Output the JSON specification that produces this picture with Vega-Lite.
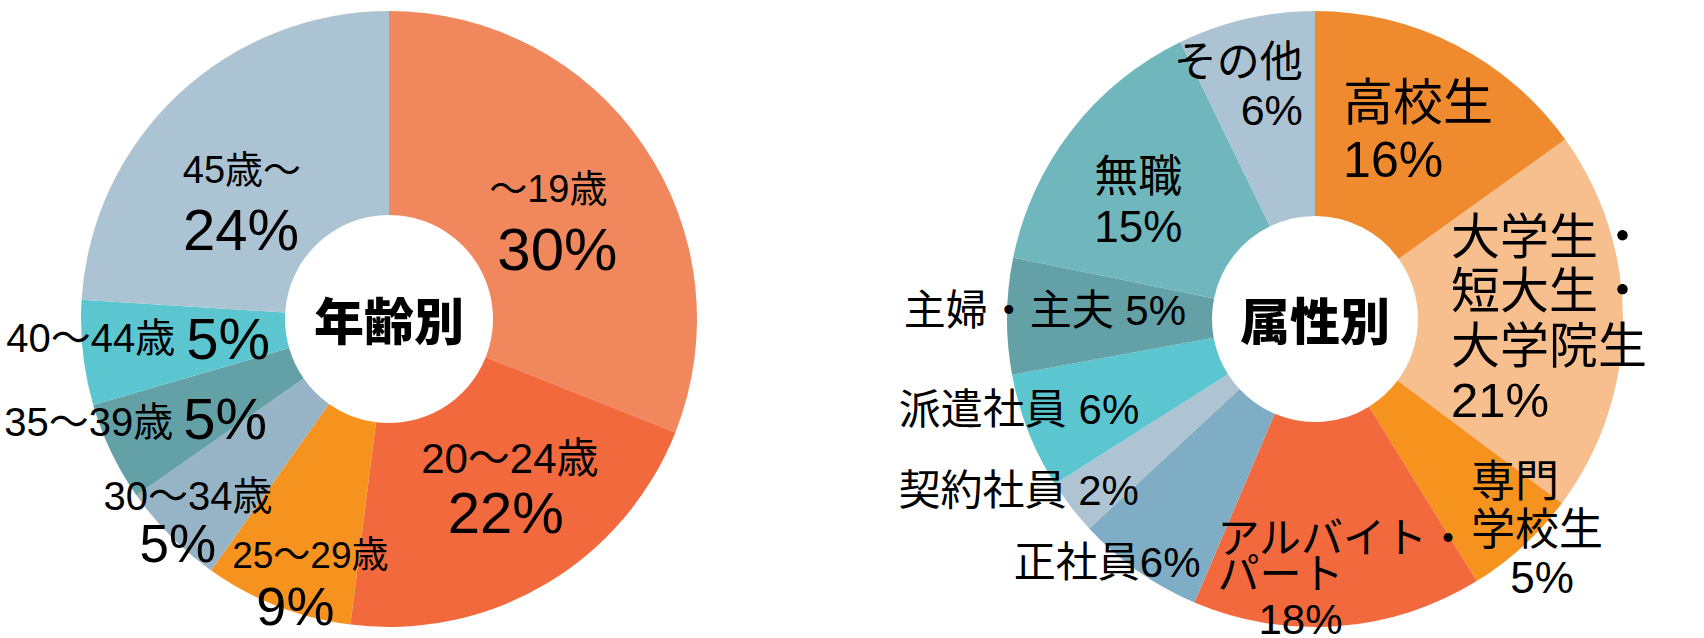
{
  "$schema": "https://vega.github.io/schema/vega-lite/v6.json",
  "padding": 0,
  "background": "white",
  "bounds": "flush",
  "spacing": 148,
  "resolve": {"scale": {"color": "independent", "theta": "independent"}},
  "config": {
    "view": {"stroke": null},
    "text": {"font": "Liberation Sans, Noto Sans CJK JP", "baseline": "alphabetic", "align": "center", "lineBreak": "\n", "color": "#000000"}
  },
  "hconcat": [
    {
      "width": 778,
      "height": 638,
      "data": {
        "values": [
          {"i": 0, "name": "～19歳", "pct": "30%", "value": 31.0},
          {"i": 1, "name": "20～24歳", "pct": "22%", "value": 21.0},
          {"i": 2, "name": "25～29歳", "pct": "9%", "value": 7.8},
          {"i": 3, "name": "30～34歳", "pct": "5%", "value": 5.5},
          {"i": 4, "name": "35～39歳", "pct": "5%", "value": 5.2},
          {"i": 5, "name": "40～44歳", "pct": "5%", "value": 5.5},
          {"i": 6, "name": "45歳～", "pct": "24%", "value": 24.0}
        ]
      },
      "layer": [
        {
          "mark": {"type": "arc", "innerRadius": 104, "outerRadius": 308},
          "encoding": {
            "theta": {"field": "value", "type": "quantitative", "stack": true},
            "order": {"field": "i", "type": "quantitative"},
            "color": {
              "field": "name", "type": "nominal", "legend": null,
              "scale": {
                "domain": ["～19歳", "20～24歳", "25～29歳", "30～34歳", "35～39歳", "40～44歳", "45歳～"],
                "range": ["#F0875D", "#F1693C", "#F6931F", "#97B4C6", "#63A1A7", "#5CC6D0", "#ABC3D3"]
              }
            }
          }
        },
        {"mark": {"type": "text", "fontSize": 38, "dx": -11, "dy": -1},
         "encoding": {"theta": {"field": "value", "type": "quantitative", "stack": true}, "order": {"field": "i", "type": "quantitative"}, "detail": {"field": "i"}, "radius": {"value": 206},
           "text": {"condition": {"test": "datum.i === 0", "field": "name", "type": "nominal"}, "value": ""}}},
        {"mark": {"type": "text", "fontSize": 60, "dx": -2, "dy": 67},
         "encoding": {"theta": {"field": "value", "type": "quantitative", "stack": true}, "order": {"field": "i", "type": "quantitative"}, "detail": {"field": "i"}, "radius": {"value": 206},
           "text": {"condition": {"test": "datum.i === 0", "field": "pct", "type": "nominal"}, "value": ""}}},
        {"mark": {"type": "text", "fontSize": 42, "dx": 16, "dy": -23},
         "encoding": {"theta": {"field": "value", "type": "quantitative", "stack": true}, "order": {"field": "i", "type": "quantitative"}, "detail": {"field": "i"}, "radius": {"value": 206},
           "text": {"condition": {"test": "datum.i === 1", "field": "name", "type": "nominal"}, "value": ""}}},
        {"mark": {"type": "text", "fontSize": 58, "dx": 12, "dy": 37},
         "encoding": {"theta": {"field": "value", "type": "quantitative", "stack": true}, "order": {"field": "i", "type": "quantitative"}, "detail": {"field": "i"}, "radius": {"value": 206},
           "text": {"condition": {"test": "datum.i === 1", "field": "pct", "type": "nominal"}, "value": ""}}},
        {"mark": {"type": "text", "fontSize": 37, "dx": -4, "dy": 57},
         "encoding": {"theta": {"field": "value", "type": "quantitative", "stack": true}, "order": {"field": "i", "type": "quantitative"}, "detail": {"field": "i"}, "radius": {"value": 206},
           "text": {"condition": {"test": "datum.i === 2", "field": "name", "type": "nominal"}, "value": ""}}},
        {"mark": {"type": "text", "fontSize": 54, "dx": -19, "dy": 114},
         "encoding": {"theta": {"field": "value", "type": "quantitative", "stack": true}, "order": {"field": "i", "type": "quantitative"}, "detail": {"field": "i"}, "radius": {"value": 206},
           "text": {"condition": {"test": "datum.i === 2", "field": "pct", "type": "nominal"}, "value": ""}}},
        {"mark": {"type": "text", "fontSize": 40, "dx": -55, "dy": 46},
         "encoding": {"theta": {"field": "value", "type": "quantitative", "stack": true}, "order": {"field": "i", "type": "quantitative"}, "detail": {"field": "i"}, "radius": {"value": 206},
           "text": {"condition": {"test": "datum.i === 3", "field": "name", "type": "nominal"}, "value": ""}}},
        {"mark": {"type": "text", "fontSize": 53, "dx": -65, "dy": 98},
         "encoding": {"theta": {"field": "value", "type": "quantitative", "stack": true}, "order": {"field": "i", "type": "quantitative"}, "detail": {"field": "i"}, "radius": {"value": 206},
           "text": {"condition": {"test": "datum.i === 3", "field": "pct", "type": "nominal"}, "value": ""}}},
        {"mark": {"type": "text", "fontSize": 40, "align": "right", "dx": -30, "dy": 28},
         "encoding": {"theta": {"field": "value", "type": "quantitative", "stack": true}, "order": {"field": "i", "type": "quantitative"}, "detail": {"field": "i"}, "radius": {"value": 206},
           "text": {"condition": {"test": "datum.i === 4", "field": "name", "type": "nominal"}, "value": ""}}},
        {"mark": {"type": "text", "fontSize": 58, "align": "left", "dx": -20, "dy": 31},
         "encoding": {"theta": {"field": "value", "type": "quantitative", "stack": true}, "order": {"field": "i", "type": "quantitative"}, "detail": {"field": "i"}, "radius": {"value": 206},
           "text": {"condition": {"test": "datum.i === 4", "field": "pct", "type": "nominal"}, "value": ""}}},
        {"mark": {"type": "text", "fontSize": 40, "align": "right", "dx": -9, "dy": 10},
         "encoding": {"theta": {"field": "value", "type": "quantitative", "stack": true}, "order": {"field": "i", "type": "quantitative"}, "detail": {"field": "i"}, "radius": {"value": 206},
           "text": {"condition": {"test": "datum.i === 5", "field": "name", "type": "nominal"}, "value": ""}}},
        {"mark": {"type": "text", "fontSize": 58, "align": "left", "dx": 2, "dy": 17},
         "encoding": {"theta": {"field": "value", "type": "quantitative", "stack": true}, "order": {"field": "i", "type": "quantitative"}, "detail": {"field": "i"}, "radius": {"value": 206},
           "text": {"condition": {"test": "datum.i === 5", "field": "pct", "type": "nominal"}, "value": ""}}},
        {"mark": {"type": "text", "fontSize": 38, "dx": -6, "dy": 14},
         "encoding": {"theta": {"field": "value", "type": "quantitative", "stack": true}, "order": {"field": "i", "type": "quantitative"}, "detail": {"field": "i"}, "radius": {"value": 206},
           "text": {"condition": {"test": "datum.i === 6", "field": "name", "type": "nominal"}, "value": ""}}},
        {"mark": {"type": "text", "fontSize": 58, "dx": -7, "dy": 81},
         "encoding": {"theta": {"field": "value", "type": "quantitative", "stack": true}, "order": {"field": "i", "type": "quantitative"}, "detail": {"field": "i"}, "radius": {"value": 206},
           "text": {"condition": {"test": "datum.i === 6", "field": "pct", "type": "nominal"}, "value": ""}}},
        {
          "data": {"values": [{"t": "年齢別"}]},
          "mark": {"type": "text", "font": "Noto Sans CJK JP", "fontWeight": 900, "fontSize": 50, "dy": 21},
          "encoding": {"text": {"field": "t", "type": "nominal"}}
        }
      ]
    },
    {
      "width": 778,
      "height": 638,
      "data": {
        "values": [
          {"i": 0, "cat": "高校生", "label": "高校生\n16%", "extra": "", "value": 15.1},
          {"i": 1, "cat": "大学生・短大生・大学院生", "label": "大学生・\n短大生・\n大学院生\n21%", "extra": "", "value": 20.1},
          {"i": 2, "cat": "専門学校生", "label": "専門\n学校生", "extra": "5%", "value": 6.0},
          {"i": 3, "cat": "アルバイト・パート", "label": "アルバイト・\nパート", "extra": "18%", "value": 15.2},
          {"i": 4, "cat": "正社員", "label": "正社員6%", "extra": "", "value": 6.7},
          {"i": 5, "cat": "契約社員", "label": "契約社員 2%", "extra": "", "value": 2.9},
          {"i": 6, "cat": "派遣社員", "label": "派遣社員 6%", "extra": "", "value": 6.1},
          {"i": 7, "cat": "主婦・主夫", "label": "主婦・主夫 5%", "extra": "", "value": 6.1},
          {"i": 8, "cat": "無職", "label": "無職\n15%", "extra": "", "value": 14.6},
          {"i": 9, "cat": "その他", "label": "その他\n6%", "extra": "", "value": 7.2}
        ]
      },
      "layer": [
        {
          "mark": {"type": "arc", "innerRadius": 103, "outerRadius": 308},
          "encoding": {
            "theta": {"field": "value", "type": "quantitative", "stack": true},
            "order": {"field": "i", "type": "quantitative"},
            "color": {
              "field": "cat", "type": "nominal", "legend": null,
              "scale": {
                "domain": ["高校生", "大学生・短大生・大学院生", "専門学校生", "アルバイト・パート", "正社員", "契約社員", "派遣社員", "主婦・主夫", "無職", "その他"],
                "range": ["#F08A2F", "#F7BF8E", "#F6931F", "#F1693C", "#7FADC5", "#AFC4D2", "#5CC6D0", "#63A1A7", "#6FB7BD", "#ABC3D3"]
              }
            }
          }
        },
        {"mark": {"type": "text", "fontSize": 50, "lineHeight": 57, "align": "left", "dx": -66, "dy": -16},
         "encoding": {"theta": {"field": "value", "type": "quantitative", "stack": true}, "order": {"field": "i", "type": "quantitative"}, "detail": {"field": "i"}, "radius": {"value": 206},
           "text": {"condition": {"test": "datum.i === 0", "field": "label", "type": "nominal"}, "value": ""}}},
        {"mark": {"type": "text", "fontSize": 49, "lineHeight": 54.5, "align": "left", "dx": -70, "dy": -67},
         "encoding": {"theta": {"field": "value", "type": "quantitative", "stack": true}, "order": {"field": "i", "type": "quantitative"}, "detail": {"field": "i"}, "radius": {"value": 206},
           "text": {"condition": {"test": "datum.i === 1", "field": "label", "type": "nominal"}, "value": ""}}},
        {"mark": {"type": "text", "fontSize": 44, "lineHeight": 48, "align": "left", "dx": 17, "dy": 26},
         "encoding": {"theta": {"field": "value", "type": "quantitative", "stack": true}, "order": {"field": "i", "type": "quantitative"}, "detail": {"field": "i"}, "radius": {"value": 206},
           "text": {"condition": {"test": "datum.i === 2", "field": "label", "type": "nominal"}, "value": ""}}},
        {"mark": {"type": "text", "fontSize": 44, "dx": 88, "dy": 122},
         "encoding": {"theta": {"field": "value", "type": "quantitative", "stack": true}, "order": {"field": "i", "type": "quantitative"}, "detail": {"field": "i"}, "radius": {"value": 206},
           "text": {"condition": {"test": "datum.i === 2", "field": "extra", "type": "nominal"}, "value": ""}}},
        {"mark": {"type": "text", "fontSize": 42, "lineHeight": 36, "align": "left", "dx": -113, "dy": 29},
         "encoding": {"theta": {"field": "value", "type": "quantitative", "stack": true}, "order": {"field": "i", "type": "quantitative"}, "detail": {"field": "i"}, "radius": {"value": 206},
           "text": {"condition": {"test": "datum.i === 3", "field": "label", "type": "nominal"}, "value": ""}}},
        {"mark": {"type": "text", "fontSize": 42, "dx": -30, "dy": 110},
         "encoding": {"theta": {"field": "value", "type": "quantitative", "stack": true}, "order": {"field": "i", "type": "quantitative"}, "detail": {"field": "i"}, "radius": {"value": 206},
           "text": {"condition": {"test": "datum.i === 3", "field": "extra", "type": "nominal"}, "value": ""}}},
        {"mark": {"type": "text", "fontSize": 42, "align": "right", "dx": 4, "dy": 89},
         "encoding": {"theta": {"field": "value", "type": "quantitative", "stack": true}, "order": {"field": "i", "type": "quantitative"}, "detail": {"field": "i"}, "radius": {"value": 206},
           "text": {"condition": {"test": "datum.i === 4", "field": "label", "type": "nominal"}, "value": ""}}},
        {"mark": {"type": "text", "fontSize": 42, "align": "right", "dx": -13, "dy": 60},
         "encoding": {"theta": {"field": "value", "type": "quantitative", "stack": true}, "order": {"field": "i", "type": "quantitative"}, "detail": {"field": "i"}, "radius": {"value": 206},
           "text": {"condition": {"test": "datum.i === 5", "field": "label", "type": "nominal"}, "value": ""}}},
        {"mark": {"type": "text", "fontSize": 42, "align": "right", "dx": 16, "dy": 30},
         "encoding": {"theta": {"field": "value", "type": "quantitative", "stack": true}, "order": {"field": "i", "type": "quantitative"}, "detail": {"field": "i"}, "radius": {"value": 206},
           "text": {"condition": {"test": "datum.i === 6", "field": "label", "type": "nominal"}, "value": ""}}},
        {"mark": {"type": "text", "fontSize": 42, "align": "right", "dx": 77, "dy": 8},
         "encoding": {"theta": {"field": "value", "type": "quantitative", "stack": true}, "order": {"field": "i", "type": "quantitative"}, "detail": {"field": "i"}, "radius": {"value": 206},
           "text": {"condition": {"test": "datum.i === 7", "field": "label", "type": "nominal"}, "value": ""}}},
        {"mark": {"type": "text", "fontSize": 44, "lineHeight": 50, "align": "left", "dx": -58, "dy": -1},
         "encoding": {"theta": {"field": "value", "type": "quantitative", "stack": true}, "order": {"field": "i", "type": "quantitative"}, "detail": {"field": "i"}, "radius": {"value": 206},
           "text": {"condition": {"test": "datum.i === 8", "field": "label", "type": "nominal"}, "value": ""}}},
        {"mark": {"type": "text", "fontSize": 43, "lineHeight": 48, "align": "right", "dx": 34, "dy": -41},
         "encoding": {"theta": {"field": "value", "type": "quantitative", "stack": true}, "order": {"field": "i", "type": "quantitative"}, "detail": {"field": "i"}, "radius": {"value": 206},
           "text": {"condition": {"test": "datum.i === 9", "field": "label", "type": "nominal"}, "value": ""}}},
        {
          "data": {"values": [{"t": "属性別"}]},
          "mark": {"type": "text", "font": "Noto Sans CJK JP", "fontWeight": 900, "fontSize": 50, "dy": 21},
          "encoding": {"text": {"field": "t", "type": "nominal"}}
        }
      ]
    }
  ]
}
